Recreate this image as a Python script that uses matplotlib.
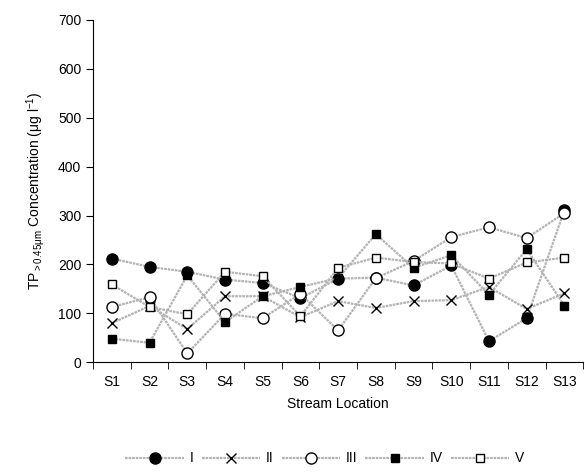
import matplotlib
matplotlib.use("Agg")
import matplotlib.pyplot as plt
import numpy as np

plt.rcParams['font.family'] = ['Liberation Sans', 'DejaVu Sans']
plt.rcParams['mathtext.fontset'] = 'custom'
plt.rcParams['mathtext.rm'] = 'Liberation Sans'
plt.rcParams['mathtext.it'] = 'Liberation Sans'

# Data
sites = ["S1", "S2", "S3", "S4", "S5", "S6", "S7", "S8", "S9", "S10", "S11", "S12", "S13"]
s_I = [212, 195, 185, 169, 162, 131, 171, 173, 157, 198, 43, 90, 311]
s_II = [80, 115, 68, 135, 135, 92, 125, 111, 125, 127, 154, 109, 141]
s_III = [113, 133, 18, 99, 90, 140, 65, 172, 207, 256, 276, 254, 305]
s_IV = [48, 40, 178, 82, 135, 154, 172, 262, 193, 219, 138, 231, 116]
s_V = [159, 113, 98, 185, 176, 94, 193, 214, 205, 202, 171, 204, 214]
names = ["I", "II", "III", "IV", "V"]

fig = plt.figure(figsize=(5.85, 4.76), dpi=100)
ax = fig.add_axes([0.159, 0.239, 0.838, 0.719])

x = np.arange(len(sites))
line_kw = dict(color="#b4b4b4", linewidth=1.6, linestyle=(0, (1.2, 0.4)))

styles = [
    dict(marker="o", markersize=8, markerfacecolor="black", markeredgecolor="black"),
    dict(marker="x", markersize=7, markeredgecolor="black", markeredgewidth=1.0),
    dict(marker="o", markersize=8, markerfacecolor="white", markeredgecolor="black", markeredgewidth=1.0),
    dict(marker="s", markersize=5.5, markerfacecolor="black", markeredgecolor="black"),
    dict(marker="s", markersize=6, markerfacecolor="white", markeredgecolor="black", markeredgewidth=1.0),
]

for vals, name, st in zip([s_I, s_II, s_III, s_IV, s_V], names, styles):
    ax.plot(x, vals, label=name, **line_kw, **st)

ax.set_xlim(-0.5, len(sites) - 0.5)
ax.set_ylim(0, 700)
ax.set_yticks(range(0, 701, 100))
ax.set_xticks(x)
ax.set_xticklabels(sites)
ax.set_xticks(np.arange(-0.5, len(sites), 1.0), minor=True)
ax.tick_params(axis="x", which="major", length=0, pad=9, labelsize=10)
ax.tick_params(axis="x", which="minor", length=5, direction="out")
ax.tick_params(axis="y", length=5, direction="out", labelsize=10)

ax.spines["top"].set_visible(False)
ax.spines["right"].set_visible(False)

ax.set_xlabel("Stream Location", fontsize=10, labelpad=6)
ax.set_ylabel(r"TP$_{>0.45\mu m}$ Concentration ($\mu$g l$^{-1}$)", fontsize=10, labelpad=8)

fig.legend(loc="center", bbox_to_anchor=(0.555, 0.037), ncol=5, frameon=False,
           fontsize=10, handlelength=4.2, columnspacing=0.6, handletextpad=0.4)

fig.savefig("out.png", dpi=100)
